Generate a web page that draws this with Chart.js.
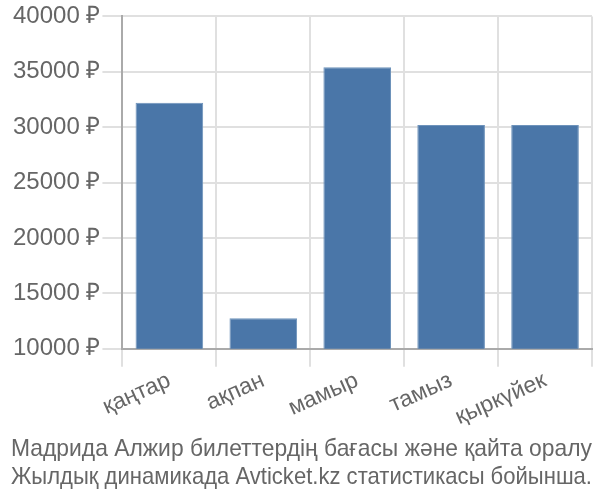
<!DOCTYPE html>
<html>
<head>
<meta charset="utf-8">
<script src="https://cdn.jsdelivr.net/npm/chart.js@4/dist/chart.umd.min.js"></script>
<style>
html,body{margin:0;padding:0;background:#fff;}
#wrap{width:600px;height:500px;}
</style>
</head>
<body>
<div id="wrap"><canvas id="c" width="600" height="500"></canvas></div>
<script>
const categories = ["қаңтар", "ақпан", "мамыр", "тамыз", "қыркүйек"];
const prices = [32200, 12750, 35400, 30200, 30200];
const titleLines = ["Мадрида Алжир билеттердің бағасы және қайта оралу", "Жылдық динамикада Avticket.kz статистикасы бойынша."];

new Chart(document.getElementById('c'), {
  type: 'bar',
  data: {
    labels: categories,
    datasets: [{
      data: prices,
      backgroundColor: '#4a76a8',
      borderColor: '#6e93bb',
      borderWidth: 1,
      barPercentage: 0.9,
      categoryPercentage: 0.8
    }]
  },
  options: {
    responsive: false,
    animation: false,
    devicePixelRatio: 1,
    layout: { padding: { left: 11, right: 8, top: 4, bottom: 0 } },
    plugins: {
      legend: { display: false },
      tooltip: { enabled: false },
      title: {
        display: true,
        position: 'bottom',
        text: titleLines,
        color: '#666',
        font: { family: 'Liberation Sans', size: 24, weight: 'normal', lineHeight: 1.18 },
        padding: { top: 4, bottom: 8 }
      }
    },
    scales: {
      x: {
        grid: { color: '#e0e0e0', lineWidth: 2, offset: true, tickLength: 18 },
        border: { color: '#aaa', width: 2 },
        ticks: {
          color: '#666',
          font: { family: 'Liberation Sans', size: 23 },
          minRotation: 24, maxRotation: 24,
          padding: 0
        }
      },
      y: {
        min: 10000, max: 40000,
        grid: { color: '#e0e0e0', lineWidth: 2, tickLength: 20 },
        border: { color: '#aaa', width: 2 },
        ticks: {
          stepSize: 5000,
          color: '#666',
          font: { family: 'Liberation Sans', size: 24 },
          padding: 2,
          callback: v => v + ' ₽'
        }
      }
    }
  }
});
</script>
</body>
</html>
